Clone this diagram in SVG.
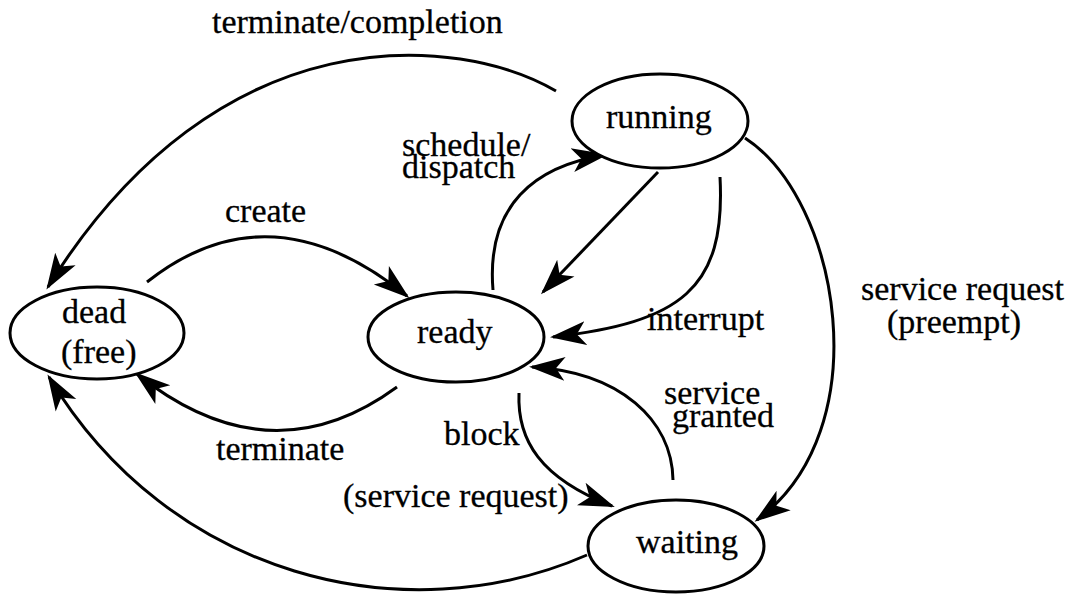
<svg xmlns="http://www.w3.org/2000/svg" width="1073" height="602" viewBox="0 0 1073 602">
  <style>
    .state { fill: #fff; stroke: #000; stroke-width: 3; }
    .edge { fill: none; stroke: #000; stroke-width: 3; marker-end: url(#ah); }
    text { font-family: "Liberation Serif", "Times New Roman", serif; font-size: 34px; fill: #000; stroke: #000; stroke-width: 0.3; }
  </style>
  <defs>
    <!-- barbed, filled arrowhead shared by every transition -->
    <marker id="ah" viewBox="0 -13 36 26" refX="33" refY="0" markerWidth="36" markerHeight="26" markerUnits="userSpaceOnUse" orient="auto">
      <path d="M36,0 L0,-12 L9,0 L0,12 Z" fill="#000"/>
    </marker>
  </defs>
  <rect width="1073" height="602" fill="#fff"/>

  <!-- transitions -->
  <g id="connectors">
    <path id="e-terminate-completion" class="edge" d="M556,91 C460,35 220,10 48,287"/>
    <path id="e-create" class="edge" d="M147,282 Q270,185 407,296"/>
    <path id="e-terminate" class="edge" d="M397,387 Q270,480 137,374"/>
    <path id="e-waiting-dead" class="edge" d="M587,555 C404,635 169,577 49,377"/>
    <path id="e-dispatch" class="edge" d="M493,290 C486,205 535,166 605,155"/>
    <path id="e-running-ready" class="edge" d="M658,172 L543,292"/>
    <path id="e-interrupt" class="edge" d="M720,177 C726,290 680,322 553,337"/>
    <path id="e-granted" class="edge" d="M673,480 C672,420 620,372 532,367"/>
    <path id="e-block" class="edge" d="M519,393 C517,440 540,478 612,506"/>
    <path id="e-preempt" class="edge" d="M745,138 C840,200 880,430 757,520"/>
  </g>

  <!-- transition labels -->
  <g id="labels">
    <text x="212" y="33">terminate/completion</text>
    <text x="402" y="156">schedule/</text>
    <text x="402" y="178">dispatch</text>
    <text x="225" y="222">create</text>
    <text x="647" y="330">interrupt</text>
    <text x="861" y="300">service request</text>
    <text x="887" y="333">(preempt)</text>
    <text x="664" y="404">service</text>
    <text x="672" y="427">granted</text>
    <text x="444" y="445">block</text>
    <text x="343" y="507">(service request)</text>
    <text x="216" y="460">terminate</text>
  </g>

  <!-- states -->
  <g id="dead">
    <ellipse class="state" cx="97" cy="333" rx="87" ry="46"/>
    <text x="62" y="323">dead</text>
    <text x="61" y="363">(free)</text>
  </g>
  <g id="ready">
    <ellipse class="state" cx="456" cy="337" rx="88" ry="45"/>
    <text x="417" y="343">ready</text>
  </g>
  <g id="running">
    <ellipse class="state" cx="660" cy="121" rx="88" ry="47"/>
    <text x="606" y="128">running</text>
  </g>
  <g id="waiting">
    <ellipse class="state" cx="676" cy="546" rx="88" ry="46"/>
    <text x="636" y="553">waiting</text>
  </g>
</svg>
